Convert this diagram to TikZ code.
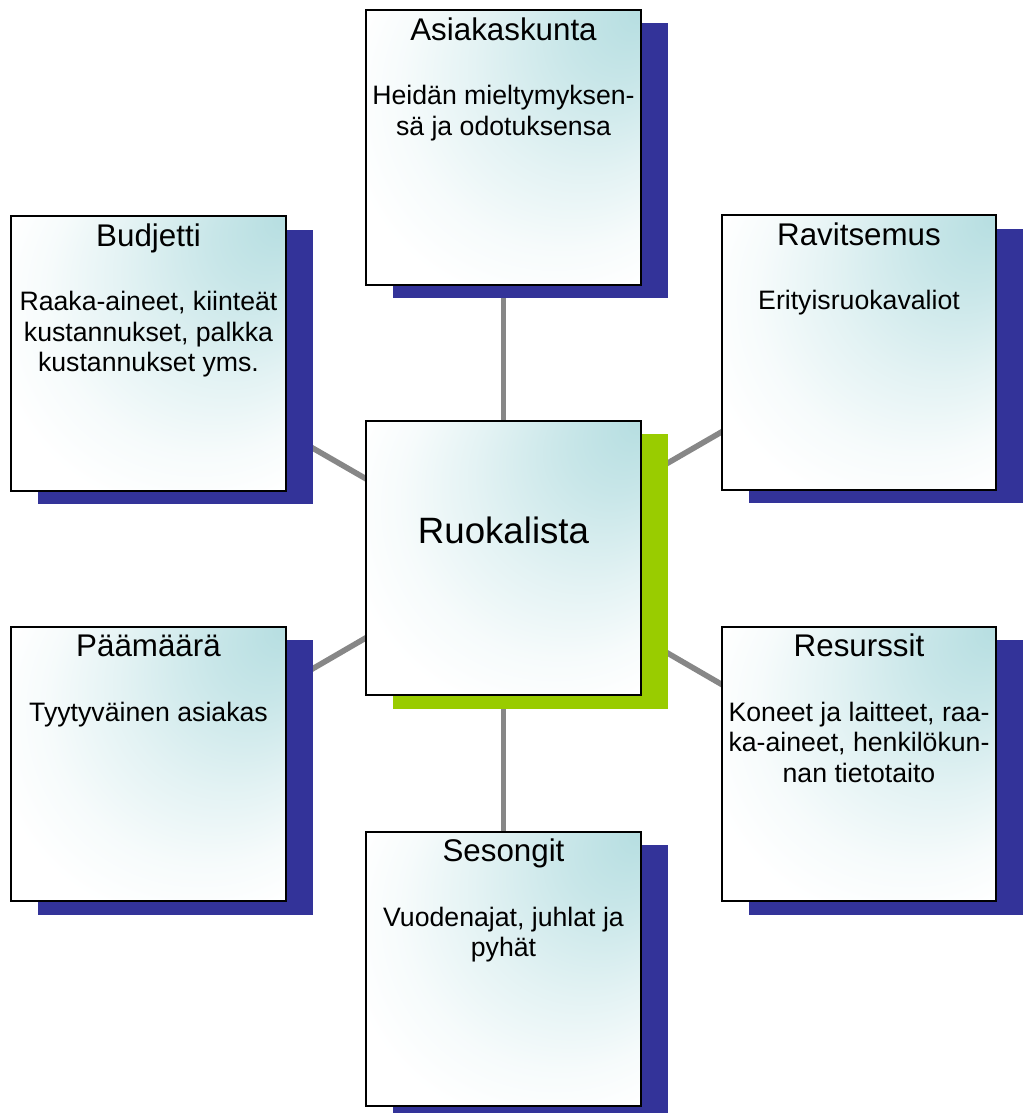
\documentclass[tikz,border=0pt]{standalone}
\usepackage{fontspec}
\setmainfont{Liberation Sans}
\usepackage{tikz}
\usepackage{xcolor}
\usetikzlibrary{shadows,backgrounds,positioning}

\definecolor{shadowblue}{HTML}{333399}
\definecolor{shadowgreen}{HTML}{99CC00}
\definecolor{linkgray}{HTML}{878787}
\definecolor{tealfull}{HTML}{B6DEE1}
\colorlet{teal75}{tealfull!75!white}
\colorlet{teal35}{tealfull!38!white}
\colorlet{teal12}{tealfull!12!white}

\pgfdeclareradialshading{cornerglow}{\pgfpoint{25bp}{25bp}}{%
  color(0bp)=(tealfull); color(9bp)=(teal75); color(20bp)=(teal35);
  color(29bp)=(teal12); color(36bp)=(white); color(50bp)=(white)}

\begin{document}
\begin{tikzpicture}[x=0.75pt,y=-0.75pt]

\tikzstyle{block}=[
  rectangle,
  draw=black,
  line width=1.3pt,
  minimum width=206pt,
  minimum height=206pt,
  inner sep=0pt,
  shade,
  shading=cornerglow
]
\tikzstyle{blueshadow}=[general shadow={fill=shadowblue, shadow xshift=20.25pt, shadow yshift=-10pt}]
\tikzstyle{greenshadow}=[general shadow={fill=shadowgreen, shadow xshift=20.25pt, shadow yshift=-10pt}]
\tikzstyle{heading}=[font=\fontsize{23.5}{28}\selectfont, anchor=base, inner sep=0pt]
\tikzstyle{body}=[font=\fontsize{20}{23}\selectfont, align=center, anchor=north, inner sep=0pt]
\tikzstyle{link}=[draw=linkgray, line width=4.2pt]

\useasboundingbox (0,0) rectangle (1023,1113);

\node[block, blueshadow] (asiakas) at (503.5,147.5) {};
\node[block, blueshadow] (budjetti) at (148.5,353.5) {};
\node[block, blueshadow] (ravitsemus) at (859,352.5) {};
\node[block, greenshadow] (ruokalista) at (503.5,558) {};
\node[block, blueshadow] (paamaara) at (148.5,764) {};
\node[block, blueshadow] (resurssit) at (859,764) {};
\node[block, blueshadow] (sesongit) at (503.5,969) {};

% Headings
\node[heading] (asiakas-h) at ([yshift=-23.25pt]asiakas.north) {Asiakaskunta};
\node[heading] (budjetti-h) at ([yshift=-23.25pt]budjetti.north) {Budjetti};
\node[heading] (ravitsemus-h) at ([yshift=-23.25pt]ravitsemus.north) {Ravitsemus};
\node[heading] (paamaara-h) at ([yshift=-23.25pt]paamaara.north) {Päämäärä};
\node[heading] (resurssit-h) at ([yshift=-23.25pt]resurssit.north) {Resurssit};
\node[heading] (sesongit-h) at ([yshift=-23.25pt]sesongit.north) {Sesongit};
\node[heading, font=\fontsize{27.5}{32}\selectfont] (ruokalista-h)
  at ([yshift=11.25pt]ruokalista.center) {Ruokalista};

% Texts
\node[body] (asiakas-t) at ([yshift=-56.75pt]asiakas.north)
{Heidän mieltymyksen-\\sä ja odotuksensa};
\node[body] (budjetti-t) at ([yshift=-56.75pt]budjetti.north)
{Raaka-aineet, kiinteät\\kustannukset, palkka\\kustannukset yms.};
\node[body] (ravitsemus-t) at ([yshift=-56.75pt]ravitsemus.north)
{Erityisruokavaliot};
\node[body] (paamaara-t) at ([yshift=-56.75pt]paamaara.north)
{Tyytyväinen asiakas};
\node[body] (resurssit-t) at ([yshift=-56.75pt]resurssit.north)
{Koneet ja laitteet, raa-\\ka-aineet, henkilökun-\\nan tietotaito};
\node[body] (sesongit-t) at ([yshift=-56.75pt]sesongit.north)
{Vuodenajat, juhlat ja\\pyhät};

% Connectors
\begin{pgfonlayer}{background}
\foreach \n in {asiakas,budjetti,ravitsemus,paamaara,resurssit,sesongit}
  \draw[link] (ruokalista.center) -- (\n.center);
\end{pgfonlayer}

\end{tikzpicture}
\end{document}
